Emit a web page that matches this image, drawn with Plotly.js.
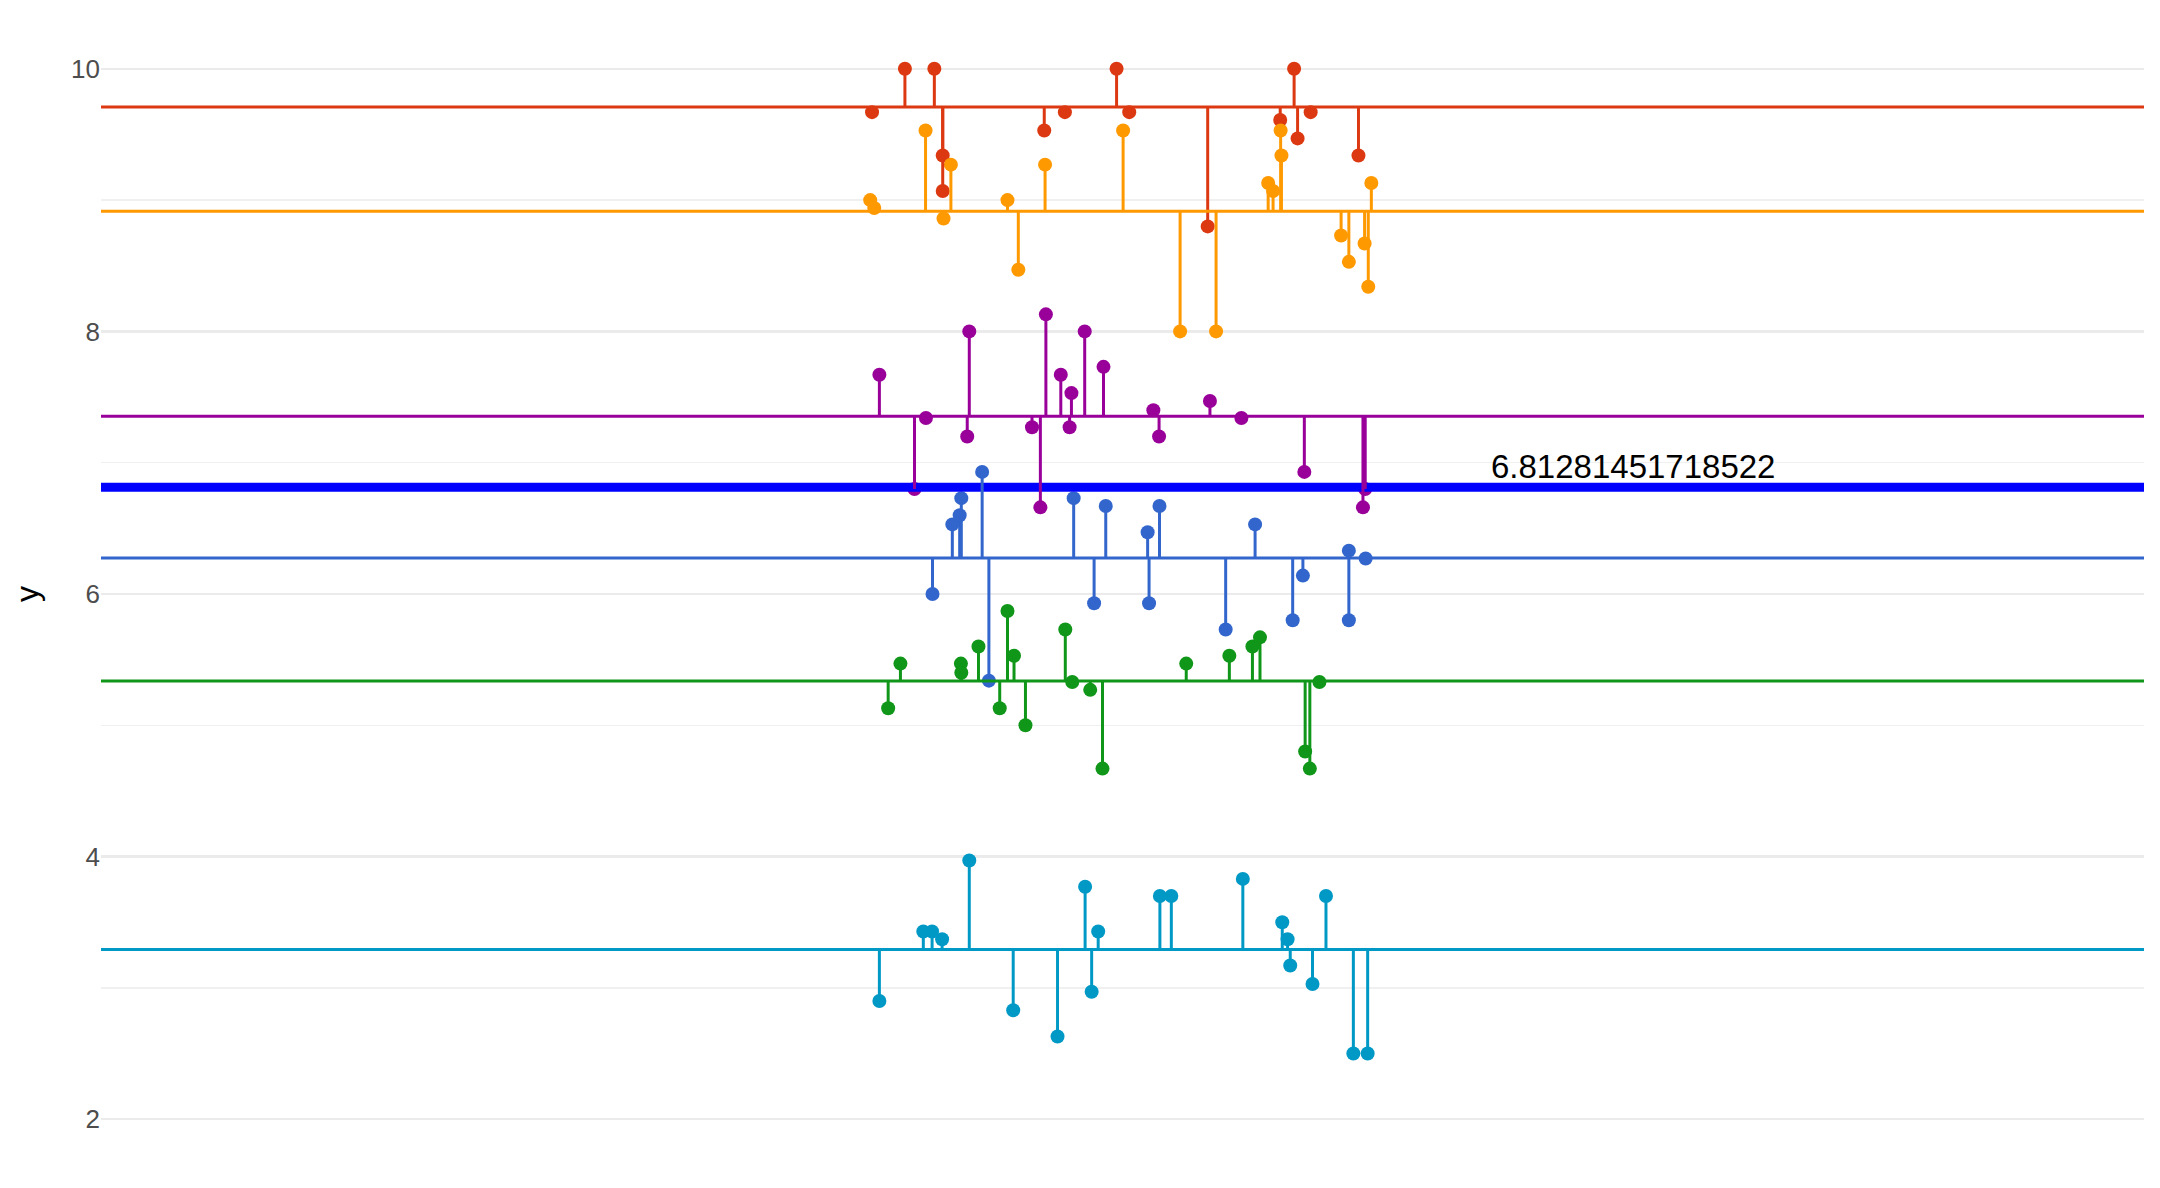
<!DOCTYPE html>
<html>
<head>
<meta charset="utf-8">
<script src="https://cdn.plot.ly/plotly-3.0.1.min.js"></script>
<style>html,body{margin:0;padding:0;background:#fff;}#chart{width:2160px;height:1188px;}</style>
</head>
<body>
<div id="chart"></div>
<script>
// ---- data ----
const groupNames = ["red", "orange", "purple", "blue", "green", "cyan"];
const groupColors = ["#dc3912", "#ff9900", "#990099", "#3366cc", "#109618", "#0099c6"];
const groupMeans = [9.71, 8.915, 7.353, 6.275, 5.338, 3.293];
const overallMean = 6.81281451718522;

const redX = [37.74, 39.35, 40.79, 41.20, 41.20, 46.17, 47.18, 49.71, 50.33, 54.17, 57.72, 58.40, 58.57, 59.21, 61.55];
const redY = [9.67, 10, 10, 9.34, 9.07, 9.53, 9.67, 10, 9.67, 8.80, 9.61, 10, 9.47, 9.67, 9.34];

const orangeX = [37.65, 37.85, 40.36, 41.24, 41.60, 44.37, 44.90, 46.21, 50.03, 52.82, 54.58, 57.13, 57.37, 57.74, 57.78, 60.70, 61.08, 61.85, 62.03, 62.18];
const orangeY = [9.00, 8.94, 9.53, 8.86, 9.27, 9.00, 8.47, 9.27, 9.53, 8.00, 8.00, 9.13, 9.07, 9.53, 9.34, 8.73, 8.53, 8.67, 8.34, 9.13];

const purpleX = [38.10, 39.82, 40.38, 42.50, 42.40, 45.57, 46.25, 45.98, 46.98, 47.50, 47.41, 48.15, 49.07, 51.51, 51.79, 54.28, 55.82, 58.90, 61.88, 61.77];
const purpleY = [7.67, 6.80, 7.34, 8.00, 7.20, 7.27, 8.13, 6.66, 7.67, 7.53, 7.27, 8.00, 7.73, 7.40, 7.20, 7.47, 7.34, 6.93, 6.80, 6.66];

const blueX = [40.70, 41.67, 42.03, 42.11, 43.13, 43.46, 47.61, 48.61, 49.18, 51.23, 51.30, 51.81, 55.05, 56.49, 58.33, 58.83, 61.08, 61.08, 61.90];
const blueY = [6.00, 6.53, 6.60, 6.73, 6.93, 5.34, 6.73, 5.93, 6.67, 6.47, 5.93, 6.67, 5.73, 6.53, 5.80, 6.14, 6.33, 5.80, 6.27];

const greenX = [38.53, 39.13, 42.09, 42.11, 42.95, 43.99, 44.37, 44.69, 45.25, 47.20, 47.54, 48.42, 49.02, 53.12, 55.23, 56.36, 56.73, 58.94, 59.17, 59.64];
const greenY = [5.13, 5.47, 5.47, 5.40, 5.60, 5.13, 5.87, 5.53, 5.00, 5.73, 5.33, 5.27, 4.67, 5.47, 5.53, 5.60, 5.67, 4.80, 4.67, 5.33];

const cyanX = [38.10, 40.25, 40.68, 41.17, 42.50, 44.65, 46.82, 48.17, 48.81, 48.49, 51.83, 52.39, 55.89, 57.82, 58.08, 58.21, 59.30, 59.96, 61.30, 62.00];
const cyanY = [2.90, 3.43, 3.43, 3.37, 3.97, 2.83, 2.63, 3.77, 3.43, 2.97, 3.70, 3.70, 3.83, 3.50, 3.37, 3.17, 3.03, 3.70, 2.50, 2.50];

const xRange = [0, 100];
const yTicks = [2, 4, 6, 8, 10];
const labelX = 75;

// ---- build traces ----
const groupsX = [redX, orangeX, purpleX, blueX, greenX, cyanX];
const groupsY = [redY, orangeY, purpleY, blueY, greenY, cyanY];

const traces = [];
// points (bottom layer)
groupsX.forEach((xs, g) => {
  traces.push({
    type: "scatter", mode: "markers", x: xs, y: groupsY[g], name: groupNames[g],
    marker: {color: groupColors[g], size: 14, line: {width: 0}},
    hoverinfo: "x+y", showlegend: false
  });
});
// overall mean line
traces.push({
  type: "scatter", mode: "lines", x: xRange, y: [overallMean, overallMean],
  line: {color: "#0000ff", width: 9}, hoverinfo: "skip", showlegend: false
});
// group mean lines + stems
groupsX.forEach((xs, g) => {
  const m = groupMeans[g];
  const lx = [xRange[0], xRange[1], null];
  const ly = [m, m, null];
  xs.forEach((x, i) => { lx.push(x, x, null); ly.push(m, groupsY[g][i], null); });
  traces.push({
    type: "scatter", mode: "lines", x: lx, y: ly,
    line: {color: groupColors[g], width: 3}, hoverinfo: "skip", showlegend: false,
    connectgaps: false
  });
});

const layout = {
  width: 2160, height: 1188,
  margin: {l: 101, r: 16, t: 36, b: 36},
  paper_bgcolor: "#ffffff", plot_bgcolor: "#ffffff",
  font: {family: "Liberation Sans, Arial, sans-serif", color: "#000"},
  showlegend: false,
  xaxis: {
    range: xRange, showgrid: false, zeroline: false, showticklabels: false,
    ticks: "", showline: false
  },
  yaxis: {
    range: [1.75, 10.25], tickvals: yTicks, ticktext: yTicks.map(String),
    showgrid: true, gridcolor: "#ebebeb", gridwidth: 2.6,
    zeroline: false, showline: false, ticks: "",
    tickfont: {size: 26, color: "#4d4d4d"},
    minor: {dtick: 1, tick0: 0, showgrid: true, gridcolor: "#f0f0f0", gridwidth: 1.3, ticks: ""},
    title: {text: "y", font: {size: 32, color: "#000"}, standoff: 22}
  },
  annotations: [{
    x: labelX, y: overallMean, xref: "x", yref: "y",
    text: String(overallMean), showarrow: false,
    xanchor: "center", yanchor: "bottom",
    font: {size: 33, color: "#000"}
  }]
};

Plotly.newPlot("chart", traces, layout, {displayModeBar: false, staticPlot: true});
</script>
</body>
</html>
